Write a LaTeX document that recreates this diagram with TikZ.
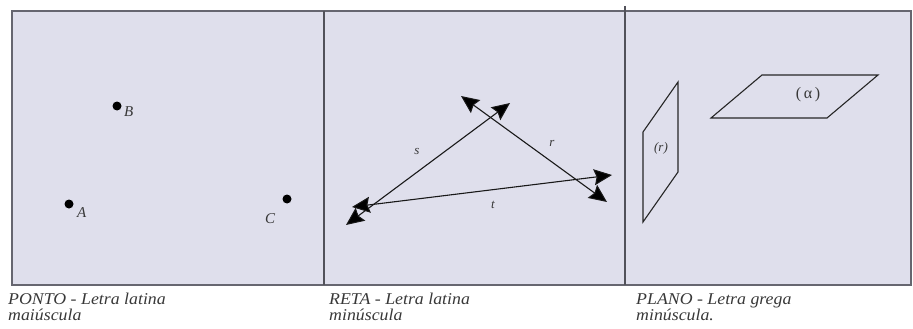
\documentclass[tikz,border=0pt]{standalone}
\usepackage{fontspec}
\setmainfont{Liberation Serif}
\newfontfamily\capfont[FakeStretch=1.08]{Liberation Serif}
\usetikzlibrary{arrows.meta}
\definecolor{panel}{HTML}{DFDFEC}
\definecolor{frame}{HTML}{666670}
\definecolor{captext}{HTML}{383838}
\tikzset{
  framebox/.style={draw=frame, line width=1.6pt, fill=panel},
  divider/.style={draw=frame!80!black, line width=1.2pt},
  dot/.style={circle, fill=black, inner sep=0pt, minimum size=9pt},
  ptlabel/.style={font=\fontsize{15}{15}\selectfont\itshape, text=captext, inner sep=0pt, anchor=base west},
  linelabel/.style={font=\fontsize{13}{13}\selectfont\itshape, text=captext, inner sep=0pt},
  dline/.style={line width=1.1pt, draw=black!90, {Stealth[length=18pt,width=16pt,inset=2.5pt,fill=black,line width=1pt]}-{Stealth[length=18pt,width=16pt,inset=2.5pt,fill=black,line width=1pt]}},
  plane/.style={line width=1.1pt, draw=black!85},
  caption/.style={font=\capfont\fontsize{16.5}{16}\selectfont\itshape, text=captext, align=left, anchor=north west, inner sep=0pt},
}
\begin{document}
\begin{tikzpicture}[x=1pt,y=-1pt]
\useasboundingbox (0,0) rectangle (913,329);
% frame
\draw[framebox] (12,11) rectangle (911,285);
\draw[divider] (324,11) -- (324,285);
\draw[divider] (625,6) -- (625,285);

% points
\node[dot] (A) at (69,204) {};
\node[dot] (B) at (117,106) {};
\node[dot] (C) at (287,199) {};
\node[ptlabel] (lA) at (77,217) {A};
\node[ptlabel] (lB) at (124,117) {B};
\node[ptlabel] (lC) at (265,223) {C};

% lines
\coordinate (s1) at (346,225);
\coordinate (s2) at (510,103);
\coordinate (r1) at (461,96);
\coordinate (r2) at (607,202);
\coordinate (t1) at (352,207);
\coordinate (t2) at (612,175);
\draw[dline] (s1) -- (s2);
\draw[dline] (r1) -- (r2);
\draw[dline] (t1) -- (t2);
\node[linelabel] (ls) at (417,152) {s};
\node[linelabel] (lr) at (552,143) {r};
\node[linelabel] (lt) at (493,205) {t};

% planes
\coordinate (p1) at (678,82);
\coordinate (p2) at (643,132);
\coordinate (p3) at (643,222);
\coordinate (p4) at (678,172);
\draw[plane] (p1) -- (p2) -- (p3) -- (p4) -- cycle;
\node[linelabel] (lpr) at (661,148) {(r)};
\coordinate (q1) at (711,118);
\coordinate (q2) at (762,75);
\coordinate (q3) at (878,75);
\coordinate (q4) at (827,118);
\draw[plane] (q1) -- (q2) -- (q3) -- (q4) -- cycle;
\node[font=\fontsize{16}{16}\selectfont, text=captext, inner sep=0pt] (lpa) at (808,95) {(\,α\,)};

% captions
\node[caption] (c1) at (8,293) {PONTO - Letra latina\\maiúscula};
\node[caption] (c2) at (329,293) {RETA - Letra latina\\minúscula};
\node[caption] (c3) at (636,293) {PLANO - Letra grega\\minúscula.};
\end{tikzpicture}
\end{document}
